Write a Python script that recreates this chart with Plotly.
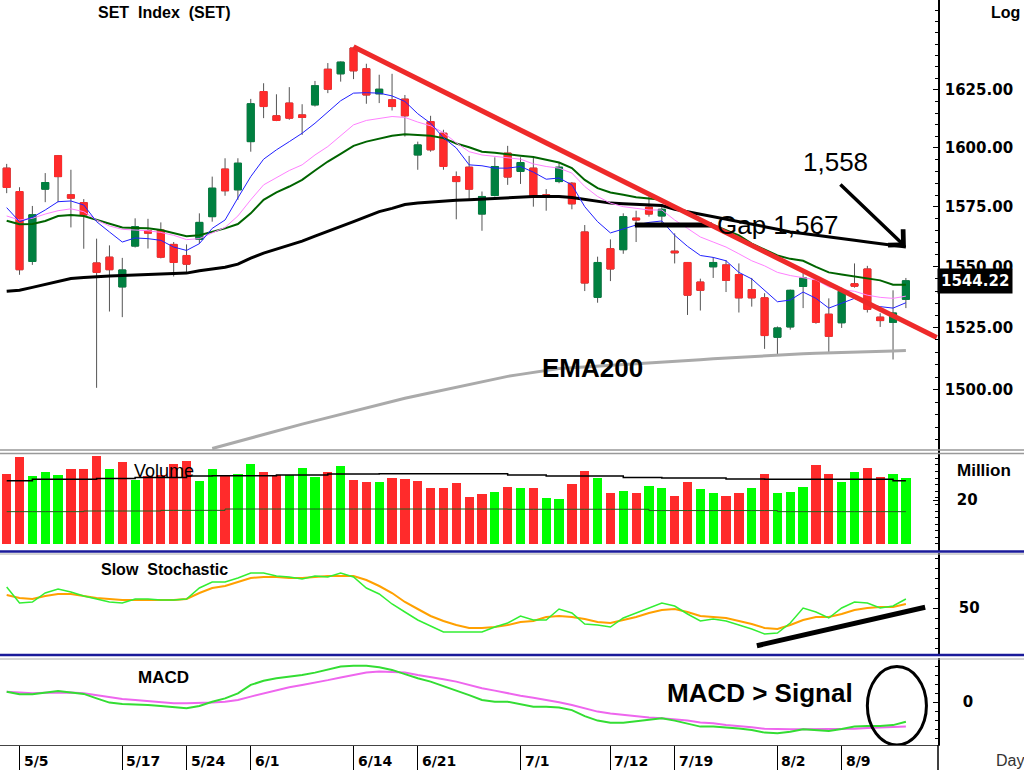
import numpy as np
import plotly.graph_objects as go

# trading days shown on the chart
dates = ['5/3', '5/5', '5/6', '5/7', '5/10', '5/11', '5/12', '5/13', '5/14', '5/17',
         '5/18', '5/19', '5/20', '5/21', '5/24', '5/25', '5/27', '5/28', '5/31',
         '6/1', '6/2', '6/4', '6/7', '6/8', '6/9', '6/10', '6/11', '6/14', '6/15',
         '6/16', '6/17', '6/18', '6/21', '6/22', '6/23', '6/24', '6/25', '6/28',
         '6/29', '6/30', '7/1', '7/2', '7/5', '7/6', '7/7', '7/8', '7/9', '7/12',
         '7/13', '7/14', '7/15', '7/16', '7/19', '7/20', '7/21', '7/22', '7/23',
         '7/27', '7/29', '7/30', '8/2', '8/3', '8/4', '8/5', '8/6', '8/9', '8/10',
         '8/11', '8/13', '8/16', '8/17']
date_ticks = ['5/5', '5/17', '5/24', '6/1', '6/14', '6/21', '7/1', '7/12', '7/19', '8/2', '8/9']
price_ticks = [1500, 1525, 1550, 1575, 1600, 1625]

# SET index OHLC
opens = [1591.4, 1581.5, 1552.2, 1582.5, 1596.7, 1580.1, 1576.8, 1551.6, 1554.0, 1541.7,
         1558.6, 1565.0, 1565.3, 1559.3, 1554.7, 1561.4, 1570.9, 1591.0, 1582.2, 1602.7,
         1624.3, 1613.8, 1619.3, 1614.2, 1618.5, 1634.0, 1632.0, 1643.3, 1634.2, 1623.3,
         1620.7, 1621.0, 1597.0, 1611.3, 1606.3, 1587.8, 1591.8, 1572.0, 1579.8, 1597.8,
         1590.0, 1591.4, 1580.1, 1585.7, 1585.0, 1564.5, 1537.4, 1557.5, 1557.1, 1570.3,
         1574.9, 1571.2, 1556.5, 1551.8, 1543.7, 1550.0, 1550.8, 1546.8, 1540.6, 1537.2,
         1521.1, 1525.3, 1541.9, 1544.4, 1530.5, 1527.0, 1543.0, 1549.1, 1529.3, 1527.2,
         1536.6]
highs = [1593.2, 1583.3, 1575.4, 1589.3, 1597.0, 1590.7, 1578.3, 1561.7, 1558.9, 1553.7,
         1570.2, 1570.0, 1568.5, 1560.3, 1559.3, 1572.3, 1587.8, 1595.6, 1595.6, 1621.1,
         1627.9, 1623.1, 1626.2, 1618.8, 1628.9, 1636.7, 1637.4, 1643.8, 1636.4, 1631.6,
         1632.0, 1622.8, 1602.7, 1613.8, 1607.8, 1590.0, 1596.6, 1581.5, 1596.0, 1600.9,
         1596.0, 1596.0, 1582.5, 1593.8, 1585.5, 1567.4, 1554.2, 1561.4, 1572.3, 1573.4,
         1579.4, 1575.8, 1563.9, 1552.0, 1545.1, 1554.0, 1552.8, 1551.4, 1545.4, 1539.1,
         1525.5, 1540.6, 1547.7, 1544.6, 1537.0, 1541.4, 1551.4, 1550.4, 1530.9, 1540.3,
         1545.4]
lows = [1580.8, 1546.7, 1550.8, 1577.0, 1577.0, 1566.4, 1557.5, 1500.7, 1531.6, 1529.3,
        1558.0, 1557.6, 1553.5, 1546.0, 1547.1, 1559.6, 1568.8, 1579.7, 1578.0, 1598.4,
        1612.8, 1611.5, 1612.1, 1605.6, 1617.8, 1623.6, 1628.6, 1629.7, 1619.0, 1619.3,
        1616.1, 1604.9, 1590.7, 1598.4, 1590.7, 1569.8, 1578.3, 1565.0, 1579.4, 1584.3,
        1584.7, 1575.1, 1573.4, 1585.0, 1574.0, 1540.0, 1535.2, 1544.1, 1555.4, 1560.3,
        1570.9, 1568.1, 1551.4, 1530.2, 1532.0, 1545.4, 1539.6, 1531.2, 1533.6, 1516.4,
        1513.8, 1524.2, 1533.0, 1526.6, 1514.8, 1524.9, 1541.4, 1531.2, 1525.3, 1512.1,
        1533.0]
closes = [1583.2, 1548.8, 1571.7, 1585.3, 1587.8, 1578.7, 1571.6, 1547.7, 1548.8, 1548.7,
          1566.7, 1564.0, 1554.0, 1551.8, 1551.1, 1568.5, 1582.9, 1581.8, 1593.5, 1619.0,
          1617.8, 1611.8, 1612.8, 1613.1, 1626.8, 1625.3, 1637.1, 1633.3, 1622.8, 1625.3,
          1617.8, 1613.8, 1601.3, 1599.2, 1592.1, 1585.7, 1582.5, 1579.4, 1592.1, 1587.6,
          1593.8, 1579.4, 1579.4, 1591.8, 1576.3, 1543.3, 1551.8, 1549.1, 1570.9, 1569.5,
          1572.0, 1574.0, 1555.8, 1538.3, 1540.3, 1551.8, 1544.4, 1537.2, 1537.2, 1521.8,
          1524.9, 1540.3, 1545.4, 1527.2, 1521.5, 1539.9, 1542.0, 1532.5, 1527.9, 1531.0,
          1544.22]

# moving averages on price
ema_blue = [1574.7, 1568.8, 1570.6, 1573.7, 1577.2, 1577.5, 1575.8, 1568.8, 1564.5, 1560.3,
            1562.0, 1561.7, 1561.0, 1558.2, 1556.8, 1559.6, 1566.0, 1569.5, 1578.8, 1587.8,
            1595.2, 1599.2, 1602.7, 1606.3, 1610.6, 1615.6, 1620.3, 1623.6, 1623.8, 1623.6,
            1622.4, 1620.0, 1614.7, 1610.6, 1604.4, 1600.0, 1592.8, 1592.4, 1591.4, 1591.4,
            1592.1, 1589.7, 1586.7, 1587.2, 1584.3, 1575.1, 1568.8, 1564.1, 1565.6, 1567.4,
            1568.5, 1569.1, 1563.1, 1558.5, 1554.7, 1553.9, 1552.5, 1547.7, 1545.0, 1540.3,
            1535.6, 1536.3, 1539.6, 1537.0, 1533.0, 1535.0, 1537.0, 1534.6, 1533.6, 1533.0,
            1535.2]
ema_pink = [1571.2, 1569.5, 1570.2, 1572.0, 1573.4, 1574.2, 1573.0, 1569.5, 1567.0, 1565.6,
            1565.3, 1565.0, 1564.3, 1563.1, 1561.3, 1561.7, 1564.1, 1566.4, 1571.2, 1578.0,
            1584.3, 1587.2, 1590.4, 1592.8, 1597.0, 1600.6, 1605.2, 1609.9, 1611.8, 1612.6,
            1613.5, 1613.1, 1611.1, 1609.5, 1606.6, 1602.2, 1598.4, 1597.0, 1596.3, 1595.6,
            1595.2, 1593.2, 1592.1, 1591.4, 1589.3, 1583.6, 1579.4, 1576.6, 1575.1, 1574.4,
            1573.7, 1573.7, 1569.5, 1566.0, 1562.4, 1560.3, 1558.2, 1555.4, 1552.5, 1550.4,
            1547.7, 1546.4, 1545.4, 1544.6, 1541.7, 1540.6, 1539.9, 1538.3, 1537.4, 1537.0,
            1537.9]
ema_green = [1569.2, 1567.7, 1567.8, 1569.1, 1571.2, 1571.6, 1571.2, 1569.5, 1567.8, 1566.4,
             1566.2, 1566.0, 1565.3, 1564.1, 1562.7, 1563.1, 1564.5, 1566.0, 1567.8, 1572.3,
             1578.0, 1581.1, 1583.6, 1586.4, 1590.4, 1594.2, 1597.5, 1600.9, 1602.7, 1603.9,
             1605.2, 1605.9, 1605.6, 1605.2, 1604.2, 1601.9, 1600.3, 1598.4, 1598.0, 1597.5,
             1596.7, 1596.1, 1594.9, 1593.8, 1591.4, 1586.4, 1582.9, 1581.1, 1580.1, 1579.1,
             1578.5, 1578.0, 1575.1, 1572.3, 1569.5, 1567.4, 1565.3, 1563.1, 1559.6, 1557.1,
             1554.7, 1553.3, 1552.5, 1550.0, 1547.7, 1546.8, 1546.1, 1545.4, 1544.4, 1542.6,
             1542.6]
ema_black = [1539.9, 1540.3, 1541.5, 1542.7, 1544.0, 1545.2, 1545.6, 1546.0, 1546.2, 1546.4,
             1546.6, 1546.8, 1547.0, 1547.2, 1547.4, 1548.4, 1549.0, 1549.8, 1551.1, 1553.6,
             1555.7, 1557.3, 1558.9, 1560.7, 1562.8, 1564.7, 1566.8, 1568.8, 1570.9, 1573.0,
             1574.4, 1576.0, 1576.6, 1577.1, 1577.5, 1577.8, 1578.0, 1578.3, 1578.5, 1578.8,
             1579.1, 1579.4, 1579.4, 1579.4, 1579.0, 1578.3, 1577.3, 1576.6, 1576.3, 1576.1,
             1576.0, 1575.6, 1574.0, 1573.0, 1572.0, 1570.9, 1569.8, 1568.8, 1567.7, 1566.7,
             1565.6, 1564.5, 1563.9, 1563.1, 1562.4, 1561.7, 1561.0, 1560.3, 1559.6, 1558.9,
             1558.2]
ema200 = [None] * 16 + [
    1476.6, 1478.0, 1479.4, 1480.8, 1482.2, 1483.6, 1485.0, 1486.2, 1487.5, 1488.8,
    1490.1, 1491.4, 1492.7, 1494.0, 1495.3, 1496.5, 1497.6, 1498.7, 1499.8, 1501.0,
    1502.2, 1503.3, 1504.4, 1505.3, 1506.1, 1506.9, 1507.7, 1508.5, 1508.8, 1509.1,
    1509.4, 1509.7, 1510.0, 1510.3, 1510.6, 1511.0, 1511.3, 1511.7, 1512.0, 1512.4,
    1512.7, 1513.1, 1513.5, 1513.8, 1514.1, 1514.3, 1514.4, 1514.6, 1514.7, 1514.9,
    1515.0, 1515.2, 1515.4, 1515.5, 1515.7]

# volume (million)
volume = [31.8, 39.7, 31.1, 32.6, 31.4, 33.9, 33.9, 40.0, 34.1, 37.4,
          29.1, 30.9, 31.4, 36.2, 37.7, 28.8, 33.9, 30.9, 31.7, 36.5,
          32.6, 31.4, 31.4, 34.7, 30.6, 32.6, 35.6, 29.1, 28.3, 28.3,
          29.8, 29.5, 28.8, 25.3, 25.6, 27.9, 21.5, 22.9, 23.5, 26.1,
          25.6, 25.6, 21.1, 20.5, 27.1, 33.2, 30.2, 23.3, 24.1, 23.0,
          26.4, 25.6, 21.8, 28.0, 25.0, 23.3, 21.8, 23.0, 25.3, 31.7,
          23.0, 23.8, 26.1, 35.9, 31.7, 28.3, 32.9, 34.7, 30.3, 31.8,
          29.8]
vol_dir = list('rrgggrrrgr' 'grrrrggrgg' 'rrgggrgrrg' 'rrrrrrrrgr' 'grggrrgrgr'
               'ggrrggrrgr' 'gggrrggrrg' 'g')
vol_avg = [28.8, 28.8, 29.4, 29.4, 29.4, 29.4, 29.4, 29.8, 29.8, 29.8,
           30.3, 30.3, 30.3, 30.3, 30.9, 30.9, 31.1, 31.1, 31.1, 31.1,
           31.1, 31.4, 31.4, 31.4, 31.4, 31.8, 31.8, 31.8, 31.8, 32.0,
           32.0, 32.0, 32.0, 32.0, 32.0, 32.0, 32.0, 32.0, 32.0, 31.4,
           31.4, 31.4, 30.9, 30.9, 30.9, 30.9, 30.9, 30.9, 30.3, 30.3,
           30.3, 30.0, 30.0, 30.0, 30.0, 30.0, 29.6, 29.6, 29.6, 29.4,
           29.4, 29.4, 29.4, 29.4, 29.4, 29.4, 29.4, 29.4, 29.4, 28.8,
           28.8]
vol_avg_long = [14.7] * 6 + [15.0] * 6 + [15.3] * 5 + [15.9] * 22 + [15.8] * 11 + [15.2] * 10 + [14.7] * 11

# slow stochastic
stoch_k = [71, 55, 56, 65, 69, 66, 62, 59, 56, 55,
           59, 59, 58, 58, 59, 70, 76, 76, 80, 85,
           85, 82, 81, 79, 82, 81, 85, 81, 70, 64,
           54, 46, 38, 32, 26, 26, 26, 26, 31, 35,
           42, 38, 38, 49, 45, 34, 33, 31, 40, 45,
           50, 55, 52, 44, 37, 39, 37, 33, 29, 24,
           25, 35, 50, 46, 40, 50, 56, 55, 50, 52,
           59]
stoch_d = [63, 60, 59, 62, 64, 64, 62, 60, 59, 58,
           58, 58, 58, 58, 59, 65, 70, 72, 76, 80,
           81, 81, 80, 80, 81, 82, 82, 82, 78, 72,
           65, 56, 49, 42, 37, 33, 30, 30, 31, 33,
           36, 37, 41, 42, 41, 39, 36, 35, 38, 41,
           45, 48, 49, 46, 42, 41, 40, 37, 34, 30,
           29, 33, 38, 41, 41, 44, 48, 50, 51, 51,
           54]

# MACD
macd = [3.4, 2.6, 2.6, 3.1, 3.7, 3.2, 2.7, 1.2, -0.2, -0.7,
        -0.8, -1.0, -1.3, -1.8, -2.1, -1.3, 0.1, 1.2, 2.9, 5.7,
        7.1, 7.9, 8.4, 9.0, 9.8, 10.7, 11.8, 12.1, 12.1, 11.6,
        10.7, 9.3, 7.9, 6.8, 5.3, 4.0, 2.3, 0.7, 0.1, 0.1,
        -0.7, -1.6, -1.6, -1.8, -2.7, -4.7, -6.2, -6.9, -6.9, -6.4,
        -6.0, -5.4, -6.2, -7.3, -8.2, -8.2, -8.4, -8.8, -9.3, -10.2,
        -10.4, -9.9, -9.1, -9.3, -9.7, -9.0, -8.2, -8.0, -8.0, -7.7,
        -6.6]
signal = [3.4, 3.1, 2.9, 3.1, 3.2, 3.2, 2.9, 2.3, 1.6, 1.0,
          0.7, 0.3, -0.1, -0.4, -0.4, -0.4, -0.2, 0.1, 0.7, 1.8,
          2.9, 4.0, 4.9, 5.7, 6.4, 7.3, 8.2, 9.0, 9.8, 10.2,
          10.1, 9.8, 9.0, 8.4, 7.6, 6.8, 5.7, 4.6, 3.8, 2.9,
          2.1, 1.4, 0.7, -0.1, -1.0, -2.1, -3.2, -3.8, -4.3, -4.9,
          -5.2, -5.4, -5.7, -6.2, -6.8, -7.1, -7.7, -8.0, -8.4, -8.9,
          -9.1, -9.1, -9.1, -9.1, -9.1, -9.0, -8.9, -8.7, -8.6, -8.4,
          -8.2]

# hand-drawn marks on the chart
down_trend_x = [27, 72.4]
down_trend_y = [1643.8, 1521.0]
gap_x = [48.9, 54.9]
gap_y = [1567.4, 1567.4]
stoch_trend_x = [58.4, 71.5]
stoch_trend_y = [12.3, 50.7]

idx = list(range(len(dates)))
RED = '#ff2b2b'
DKGREEN = '#008040'
PH = 745.0  # paper height in px


def py(p):
    return (PH - p) / PH


fig = go.Figure()

# candles: wicks first, then coloured bodies on top
fig.add_trace(go.Candlestick(
    x=idx, open=opens, high=highs, low=lows, close=closes,
    increasing=dict(line=dict(color='#555555', width=1), fillcolor=DKGREEN),
    decreasing=dict(line=dict(color='#555555', width=1), fillcolor=RED),
    hoverinfo='skip', xaxis='x', yaxis='y'))
fig.add_trace(go.Candlestick(
    x=idx, open=opens, close=closes,
    high=[max(o, c) for o, c in zip(opens, closes)],
    low=[min(o, c) for o, c in zip(opens, closes)],
    increasing=dict(line=dict(color=DKGREEN, width=1), fillcolor=DKGREEN),
    decreasing=dict(line=dict(color=RED, width=1), fillcolor=RED),
    hoverinfo='skip', xaxis='x', yaxis='y'))

for vals, col, w in [(ema200, '#aaaaaa', 3), (ema_black, 'black', 3),
                     (ema_green, '#006400', 2), (ema_pink, '#ff80ff', 1),
                     (ema_blue, '#2020ff', 1)]:
    fig.add_trace(go.Scatter(x=idx, y=vals, mode='lines', line=dict(color=col, width=w),
                             hoverinfo='skip', xaxis='x', yaxis='y'))

fig.add_trace(go.Scatter(x=gap_x, y=gap_y, mode='lines', line=dict(color='black', width=5),
                         xaxis='x', yaxis='y'))
fig.add_trace(go.Scatter(x=down_trend_x, y=down_trend_y, mode='lines',
                         line=dict(color='#ee2a2a', width=5), xaxis='x', yaxis='y'))

# volume
fig.add_trace(go.Bar(x=idx, y=volume, width=0.72,
                     marker=dict(color=[RED if d == 'r' else '#00ff00' for d in vol_dir],
                                 line=dict(width=0)),
                     xaxis='x', yaxis='y2'))
fig.add_trace(go.Scatter(x=idx, y=vol_avg, mode='lines', line=dict(color='black', width=1.5, shape='hv'),
                         xaxis='x', yaxis='y2'))
fig.add_trace(go.Scatter(x=idx, y=vol_avg_long, mode='lines', line=dict(color='#1f5f1f', width=1, shape='hv'),
                         xaxis='x', yaxis='y2'))

# stochastic
fig.add_trace(go.Scatter(x=idx, y=stoch_d, mode='lines', line=dict(color='#ffa000', width=2),
                         xaxis='x', yaxis='y3'))
fig.add_trace(go.Scatter(x=idx, y=stoch_k, mode='lines', line=dict(color='#33ee33', width=1.5),
                         xaxis='x', yaxis='y3'))
fig.add_trace(go.Scatter(x=stoch_trend_x, y=stoch_trend_y, mode='lines',
                         line=dict(color='black', width=5), xaxis='x', yaxis='y3'))

# MACD
fig.add_trace(go.Scatter(x=idx, y=signal, mode='lines', line=dict(color='#ee66ee', width=2),
                         xaxis='x', yaxis='y4'))
fig.add_trace(go.Scatter(x=idx, y=macd, mode='lines', line=dict(color='#33dd33', width=2),
                         xaxis='x', yaxis='y4'))

axis_font = dict(family='DejaVu Sans', size=15, color='black', weight='bold')
common_y = dict(side='right', anchor='x', showgrid=False, zeroline=False,
                showline=True, linecolor='black', linewidth=1.5,
                ticks='inside', ticklen=5, tickcolor='black', tickfont=axis_font,
                tickmode='array')

fig.update_layout(
    width=1024, height=770,
    margin=dict(l=0, r=86, t=0, b=25),
    paper_bgcolor='white', plot_bgcolor='white',
    showlegend=False, bargap=0, boxgap=0.22,
    font=dict(family='Arial, Liberation Sans', color='black'),
    xaxis=dict(domain=[0, 1], range=[-0.52, 72.5], anchor='y4',
               tickmode='array', tickvals=[dates.index(d) for d in date_ticks],
               showticklabels=False, ticks='outside', ticklen=25, tickcolor='black',
               showgrid=False, zeroline=False, showline=True, linecolor='#444444',
               rangeslider=dict(visible=False)),
    yaxis=dict(domain=[py(453), 1], type='log',
               range=[np.log10(1474.8), np.log10(1664.5)],
               tickvals=price_ticks, ticktext=[f'{v:.2f}' for v in price_ticks],
               minor=dict(tickmode='array', tickvals=list(range(1480, 1665, 5)),
                          ticks='inside', ticklen=3, tickcolor='black'),
               ticklabelstandoff=2, **common_y),
    yaxis2=dict(domain=[py(551), py(453)], range=[-3.2, 41.4],
                tickvals=[20], ticktext=['20'], ticklabelstandoff=14,
                minor=dict(dtick=3, ticks='inside', ticklen=3, tickcolor='black'),
                **common_y),
    yaxis3=dict(domain=[py(655), py(553)], range=[3, 105],
                tickvals=[50], ticktext=['50'], ticklabelstandoff=16,
                minor=dict(dtick=10, ticks='inside', ticklen=3, tickcolor='black'),
                **common_y),
    yaxis4=dict(domain=[0, py(658)], range=[-14.33, 14.67],
                tickvals=[0], ticktext=['0'], ticklabelstandoff=20,
                minor=dict(dtick=3, ticks='inside', ticklen=3, tickcolor='black'),
                **common_y),
)

# panel separators
xr = 1024 / 938
seps = [(450, '#999999', 1.5), (453.5, '#999999', 1.5),
        (551.5, '#1a1a9a', 2.5), (554, '#aaaaaa', 1),
        (655, '#1a1a9a', 2.5), (659, '#aaaaaa', 1)]
for yy, col, w in seps:
    fig.add_shape(type='line', xref='paper', yref='paper', x0=0, x1=xr, y0=py(yy), y1=py(yy),
                  line=dict(color=col, width=w))
fig.add_shape(type='line', xref='paper', yref='paper', x0=1, x1=1, y0=py(770), y1=py(745),
              line=dict(color='black', width=1.5))

# circle around MACD crossover
fig.add_shape(type='circle', xref='x', yref='y4', x0=67.0, x1=71.6, y0=-14.3, y1=11.8,
              line=dict(color='black', width=3))

ann = []
for d in date_ticks:
    ann.append(dict(x=dates.index(d), y=py(761), xref='x', yref='paper', text=d,
                    showarrow=False, xanchor='left', yanchor='middle', xshift=2,
                    font=dict(family='DejaVu Sans', size=14, color='black', weight='bold')))


def label(text, x, y, size, bold=True, anchor='center', color='black', family='Arial, Liberation Sans'):
    ann.append(dict(x=x / 938, y=py(y), xref='paper', yref='paper', text=text,
                    showarrow=False, xanchor=anchor, yanchor='middle',
                    font=dict(family=family, size=size, color=color,
                              weight='bold' if bold else 'normal')))


label('SET  Index  (SET)', 164, 12, 16)
label('Log', 1005, 12, 16)
label('1,558', 835, 162, 26, bold=False)
label('Gap 1,567', 715, 225, 26, bold=False, anchor='left')
label('EMA200', 592, 368, 26)
label('Volume', 164, 471, 18, bold=False)
label('Million', 984, 471, 17)
label('Slow  Stochastic', 164, 569, 16)
label('MACD', 163, 677, 17)
label('MACD > Signal', 760, 693, 26)
label('Day', 1010, 760, 16, bold=False, color='#333333')

# arrow to the EMA end value
ann.append(dict(x=idx[-1], y=np.log10(ema_black[-1]), xref='x', yref='y', ax=-67, ay=-64,
                showarrow=True, arrowhead=4, arrowsize=1.2, arrowwidth=3.5,
                arrowcolor='black', text=''))
# last price tag
ann.append(dict(x=1, y=np.log10(closes[-1]), xref='paper', yref='y', text=f'{closes[-1]:.2f}',
                showarrow=False, xanchor='left', yanchor='middle', bgcolor='black',
                borderpad=3, xshift=-1,
                font=dict(family='DejaVu Sans', size=15, color='white', weight='bold')))
fig.update_layout(annotations=ann)

fig.write_html("out.html", config={'displayModeBar': False},
               post_script="document.body.style.margin='0px';")
